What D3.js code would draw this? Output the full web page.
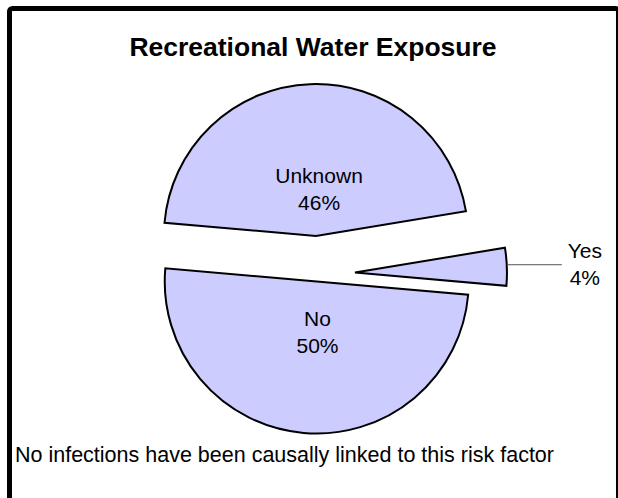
<!DOCTYPE html>
<html>
<head>
<meta charset="utf-8">
<script src="https://cdn.jsdelivr.net/npm/d3@7"></script>
<style>
  body { margin: 0; background: #fff; }
  text { font-family: "Liberation Sans", Arial, sans-serif; fill: #000; }
</style>
</head>
<body>
<div id="chart"></div>
<script>
// chart data
var categories = ["Unknown", "Yes", "No"];
var shares = [46, 4, 50];
var title = "Recreational Water Exposure";
var footnote = "No infections have been causally linked to this risk factor";

// how far each slice is pulled out of the pie (px)
var explode = [38, 37.6, 7.5];

var svgWidth = 618;
var svgHeight = 498;

var center = { x: 317.4, y: 274 };
var radius = 152;

var svg = d3.select("#chart")
    .append("svg")
    .attr("width", svgWidth)
    .attr("height", svgHeight);

// frame (runs off the right and bottom edge)
svg.append("rect")
    .attr("x", 9.5)
    .attr("y", 8.5)
    .attr("width", 609)
    .attr("height", 500)
    .attr("rx", 3)
    .attr("fill", "#fff")
    .attr("stroke", "#000")
    .attr("stroke-width", 5);

svg.append("text")
    .attr("x", 313)
    .attr("y", 56)
    .attr("text-anchor", "middle")
    .style("font-size", "26.5px")
    .style("font-weight", "bold")
    .text(title);

var slices = categories.map(function(c, i) {
    return { name: c, value: shares[i], explode: explode[i] };
});

var pie = d3.pie()
    .sort(null)
    .value(d => d.value)
    .startAngle(-85 * Math.PI / 180)
    .endAngle(275 * Math.PI / 180);

var arc = d3.arc()
    .innerRadius(0)
    .outerRadius(radius);

var arcs = pie(slices);

function midDir(d) {
    var a = (d.startAngle + d.endAngle) / 2;
    return [Math.sin(a), -Math.cos(a)];
}

var pieGroup = svg.append("g")
    .attr("transform", `translate(${center.x}, ${center.y})`);

var sliceGroups = pieGroup.selectAll("g.slice")
    .data(arcs)
    .enter()
    .append("g")
    .attr("class", "slice")
    .attr("transform", function(d) {
        var m = midDir(d);
        return `translate(${m[0] * d.data.explode}, ${m[1] * d.data.explode})`;
    });

sliceGroups.append("path")
    .attr("d", arc)
    .attr("fill", "#ccccff")
    .attr("stroke", "#000")
    .attr("stroke-width", 2)
    .attr("stroke-linejoin", "miter");

// labels inside the big slices
var lineGap = 27;
var inside = sliceGroups.filter(d => d.data.value >= 10);

inside.append("text")
    .attr("text-anchor", "middle")
    .attr("transform", function(d) {
        var m = midDir(d);
        var r = 49;
        return `translate(${m[0] * r + 5}, ${m[1] * r + 2})`;
    })
    .style("font-size", "21px")
    .each(function(d) {
        var t = d3.select(this);
        t.append("tspan").attr("x", 0).attr("y", -lineGap / 2 + 7).text(d.data.name);
        t.append("tspan").attr("x", 0).attr("y", lineGap / 2 + 7).text(d.data.value + "%");
    });

// small slice gets a leader line and an outside label
var outside = sliceGroups.filter(d => d.data.value < 10);

outside.each(function(d) {
    var g = d3.select(this);
    var m = midDir(d);
    var x0 = m[0] * radius;
    var y0 = m[1] * radius - 2;
    var x1 = x0 + 55;
    g.append("line")
        .attr("x1", x0)
        .attr("y1", y0)
        .attr("x2", x1)
        .attr("y2", y0)
        .attr("stroke", "#555")
        .attr("stroke-width", 1);
    var t = g.append("text")
        .attr("text-anchor", "middle")
        .style("font-size", "21px");
    t.append("tspan").attr("x", x1 + 23).attr("y", y0 - 7).text(d.data.name);
    t.append("tspan").attr("x", x1 + 23).attr("y", y0 - 7 + lineGap).text(d.data.value + "%");
});

svg.append("text")
    .attr("x", 15)
    .attr("y", 462)
    .style("font-size", "21.5px")
    .text(footnote);
</script>
</body>
</html>
